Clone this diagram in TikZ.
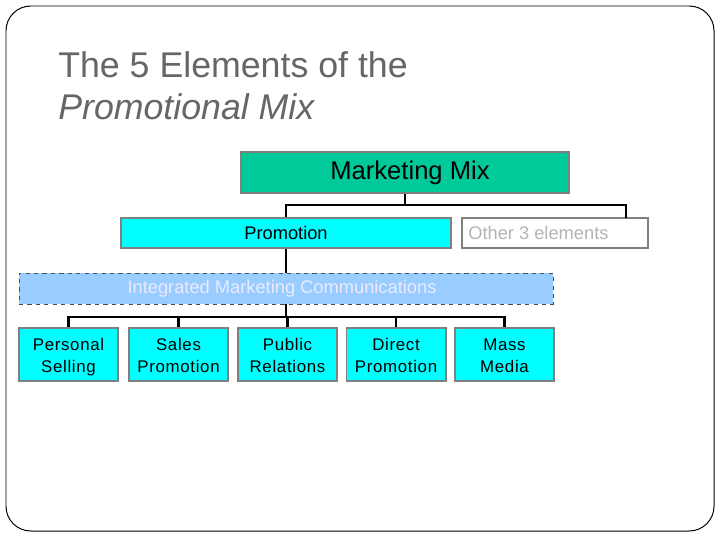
\documentclass[tikz,border=0pt]{standalone}
\usepackage{xcolor}
\usepackage{tikz}
\usepackage{fontspec}
\setmainfont{Liberation Sans}
\definecolor{mixgreen}{HTML}{00C99A}
\definecolor{promocyan}{HTML}{00FFFF}
\definecolor{imcblue}{HTML}{99CCFF}
\definecolor{boxgray}{HTML}{808080}
\definecolor{titlegray}{HTML}{666666}
\definecolor{fadedgray}{HTML}{B4B4B4}
\newcommand{\twolines}[2]{\rule{0pt}{14.5pt}#1\\#2\strut}

\begin{document}
\begin{tikzpicture}[x=0.025cm,y=-0.025cm,
  box/.style={draw=boxgray,line width=1.4pt,inner sep=0pt,align=center},
  elem/.style={box,fill=promocyan,minimum width=2.475cm,minimum height=1.325cm,font=\fontsize{12}{15}\selectfont\addfontfeature{LetterSpace=4}},
  link/.style={line width=1.5pt}]
  \useasboundingbox (0,0) rectangle (720,540);
  \draw[line width=0.7pt,rounded corners=0.62cm] (6,6) rectangle (714,531);
  % title
  \node[anchor=base west,inner sep=0pt,text=titlegray,font=\fontsize{25.4}{30}\selectfont] (title1) at (58,77) {The 5 Elements of the};
  \node[anchor=base west,inner sep=0pt,text=titlegray,font=\fontsize{25.4}{30}\selectfont\itshape] (title2) at (58,119) {Promotional Mix};
  % boxes
  \node[box,fill=mixgreen,minimum width=8.2cm,minimum height=1.025cm,font=\fontsize{18.2}{22}\selectfont] (mix) at (405,172.5) {\hspace*{0.25cm}Marketing Mix};
  \node[box,fill=promocyan,minimum width=8.225cm,minimum height=0.75cm,font=\fontsize{13}{16}\selectfont] (promo) at (286,233) {Promotion};
  \node[box,fill=white,minimum width=4.65cm,minimum height=0.75cm] (other) at (555,233) {};
  \node[anchor=west,inner sep=0pt,text=fadedgray,font=\fontsize{13}{16}\selectfont] (othertxt) at (468,233) {Other 3 elements};
  \node[box,draw=black!70,line width=0.5pt,dashed,fill=imcblue,minimum width=13.35cm,minimum height=0.775cm,text=white!92!blue,font=\fontsize{13}{16}\selectfont] (imc) at (286,288.5) {\hspace*{-0.2cm}\raisebox{-2pt}{Integrated Marketing Communications}};
  \node[elem] (ps) at (68.5,354.5) {\twolines{Personal}{Selling}};
  \node[elem] (sp) at (178.5,354.5) {\twolines{Sales}{Promotion}};
  \node[elem] (pr) at (287.5,354.5) {\twolines{Public}{Relations}};
  \node[elem] (dp) at (396,354.5) {\twolines{Direct}{Promotion}};
  \node[elem] (mm) at (504.5,354.5) {\twolines{Mass}{Media}};
  % connectors
  \coordinate (bus1) at (405,205);
  \coordinate (otherdrop) at (626,218);
  \draw[link] (mix.south) -- (bus1);
  \draw[link] (promo.north) |- (bus1) -| (otherdrop);
  \draw[link] (promo.south) -- (imc.north);
  \coordinate (bus2) at (286,317);
  \draw[link] (imc.south) -- (bus2);
  \draw[link] (ps.north) |- (bus2) -| (mm.north);
  \draw[link] (sp.north) -- (sp.north |- bus2);
  \draw[link] (pr.north) -- (pr.north |- bus2);
  \draw[link] (dp.north) -- (dp.north |- bus2);
\end{tikzpicture}
\end{document}
